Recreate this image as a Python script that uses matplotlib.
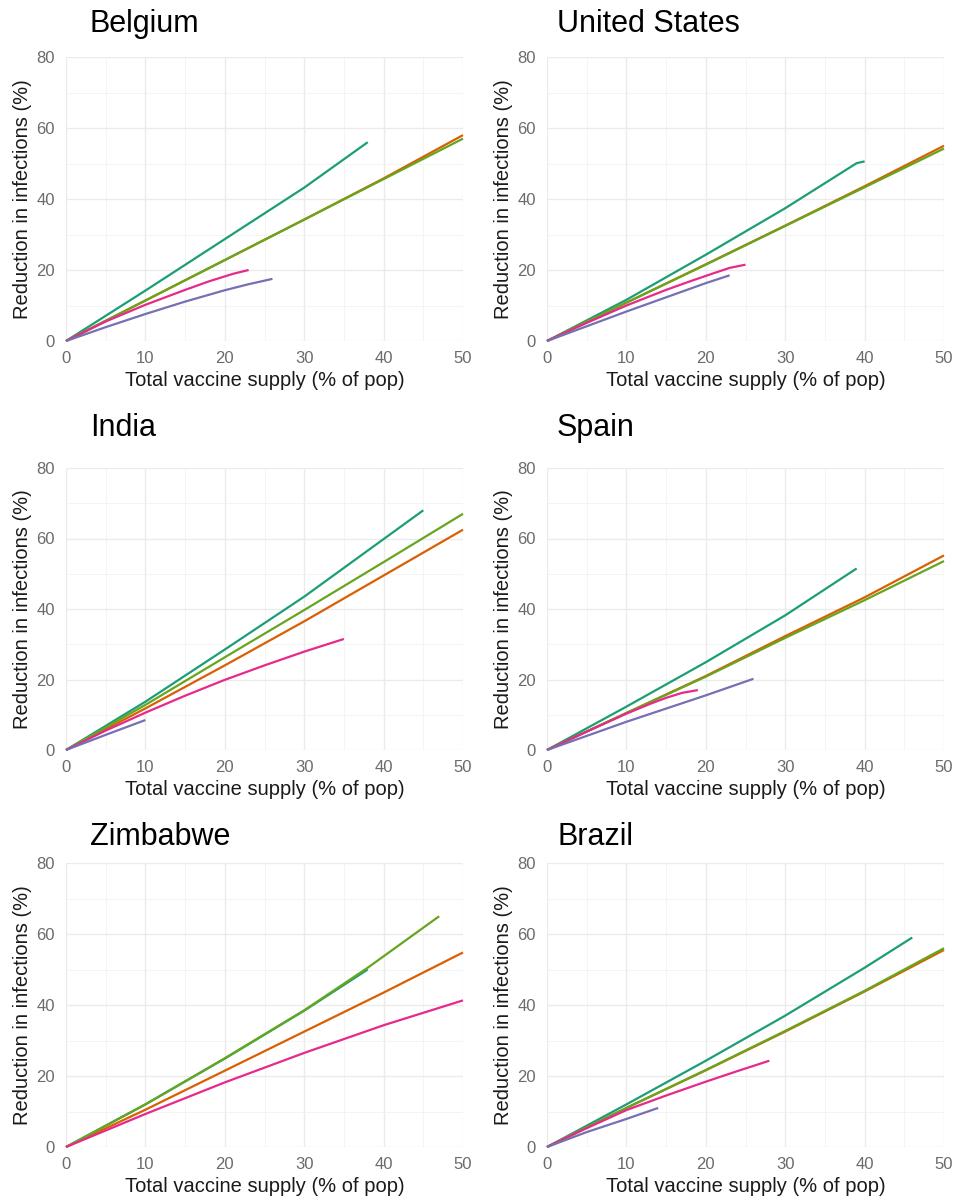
import numpy as np
import matplotlib.pyplot as plt

plt.rcParams['font.family'] = ['Liberation Sans', 'DejaVu Sans']

# Dark2 palette, as in the original
col_teal = '#1B9E77'
col_orange = '#D95F02'
col_purple = '#7570B3'
col_pink = '#E7298A'
col_green = '#66A61E'

countries = ['Belgium', 'United States', 'India', 'Spain', 'Zimbabwe', 'Brazil']

# (x, y) per strategy per country
belgium = {
    'teal': ([0, 10, 20, 30, 38], [0, 14.2, 28.7, 43.2, 56]),
    'orange': ([0, 10, 20, 30, 40, 50], [0, 11.4, 22.8, 34.2, 45.8, 58]),
    'green': ([0, 10, 20, 30, 40, 50], [0, 11.4, 22.8, 34.2, 45.6, 57]),
    'pink': ([0, 5, 10, 15, 18, 21, 23], [0, 5.5, 10.2, 14.4, 16.8, 18.9, 20]),
    'purple': ([0, 5, 10, 15, 20, 23, 26], [0, 3.9, 7.6, 11.1, 14.3, 16, 17.5]),
}
united_states = {
    'teal': ([0, 10, 20, 30, 39, 40], [0, 11.6, 24.3, 37.4, 50.1, 50.6]),
    'orange': ([0, 10, 20, 30, 40, 50], [0, 10.8, 21.6, 32.5, 43.6, 55]),
    'green': ([0, 10, 20, 30, 40, 50], [0, 10.8, 21.5, 32.4, 43.3, 54.2]),
    'pink': ([0, 5, 10, 15, 18, 21, 23, 25], [0, 5.1, 10, 14.4, 16.8, 19.1, 20.6, 21.5]),
    'purple': ([0, 10, 20, 23], [0, 8.3, 16.3, 18.5]),
}
india = {
    'teal': ([0, 10, 20, 30, 45], [0, 13.7, 28.5, 43.5, 68]),
    'orange': ([0, 10, 20, 30, 40, 50], [0, 11.8, 24, 36.5, 49.5, 62.5]),
    'green': ([0, 10, 20, 30, 40, 50], [0, 12.8, 26.3, 39.7, 53.3, 67]),
    'pink': ([0, 5, 10, 15, 20, 25, 30, 35], [0, 5.5, 10.6, 15.4, 19.9, 24, 27.9, 31.5]),
    'purple': ([0, 5, 10], [0, 4.3, 8.5]),
}
spain = {
    'teal': ([0, 10, 20, 30, 39], [0, 12.3, 24.9, 38.2, 51.5]),
    'orange': ([0, 10, 20, 30, 40, 50], [0, 10.5, 21, 32.3, 43.3, 55.2]),
    'green': ([0, 10, 20, 30, 40, 50], [0, 10.5, 20.8, 31.8, 42.5, 53.6]),
    'pink': ([0, 5, 10, 13, 15, 17, 19], [0, 5.2, 10.3, 13.1, 14.8, 16.2, 17]),
    'purple': ([0, 10, 20, 26], [0, 8, 15.5, 20.2]),
}
zimbabwe = {
    'teal': ([0, 10, 20, 30, 38], [0, 12, 24.9, 38.4, 50]),
    'orange': ([0, 10, 20, 30, 40, 50], [0, 10.5, 21.5, 32.5, 43.5, 54.8]),
    'green': ([0, 10, 20, 30, 38, 47], [0, 12, 25, 38.5, 50.5, 65]),
    'pink': ([0, 10, 20, 30, 40, 50], [0, 9.3, 18.2, 26.5, 34.3, 41.3]),
}
brazil = {
    'teal': ([0, 10, 20, 30, 40, 46], [0, 12, 24.3, 37, 50.5, 59]),
    'orange': ([0, 10, 20, 30, 40, 50], [0, 11, 21.6, 32.5, 43.8, 55.5]),
    'green': ([0, 10, 20, 30, 40, 50], [0, 11, 21.7, 32.7, 44, 56]),
    'pink': ([0, 5, 10, 15, 20, 24, 28], [0, 5.3, 10.4, 14.5, 18.4, 21.4, 24.3]),
    'purple': ([0, 5, 10, 14], [0, 4.2, 7.9, 11]),
}
all_data = [belgium, united_states, india, spain, zimbabwe, brazil]

colors = {'teal': col_teal, 'orange': col_orange, 'green': col_green,
          'pink': col_pink, 'purple': col_purple}
draw_order = ['teal', 'orange', 'green', 'pink', 'purple']

W, H = 956, 1199
fig = plt.figure(figsize=(W / 100, H / 100), dpi=100)

col_left = [66, 547]
row_top = [57, 468, 863]
row_bot = [341, 750, 1147]
panel_w = 397
title_base = [32, 436, 845]
title_x = [90, 557]

for i, (name, data) in enumerate(zip(countries, all_data)):
    r, c = divmod(i, 2)
    ax = fig.add_axes([col_left[c] / W, 1 - row_bot[r] / H,
                       panel_w / W, (row_bot[r] - row_top[r]) / H])
    for key in draw_order:
        if key in data:
            xs, ys = data[key]
            ax.plot(xs, ys, color=colors[key], lw=1.6, solid_capstyle='butt',
                    clip_on=False, zorder=3)
    ax.set_xlim(0, 50)
    ax.set_ylim(0, 80)
    ax.set_xticks(np.arange(0, 51, 10))
    ax.set_yticks(np.arange(0, 81, 20))
    ax.set_xticks(np.arange(5, 50, 10), minor=True)
    ax.set_yticks(np.arange(10, 80, 20), minor=True)
    ax.grid(which='major', color='#EBEBEB', lw=1.0)
    ax.grid(which='minor', color='#F2F2F2', lw=0.6)
    ax.set_axisbelow(True)
    for s in ax.spines.values():
        s.set_visible(False)
    ax.tick_params(which='both', length=0)
    ax.tick_params(axis='x', labelsize=12, labelcolor='#6B6B6B', pad=7)
    ax.tick_params(axis='y', labelsize=12, labelcolor='#6B6B6B', pad=8)
    ax.set_xlabel('Total vaccine supply (% of pop)', fontsize=14.5, color='#1A1A1A', labelpad=4)
    ax.set_ylabel('Reduction in infections (%)', fontsize=14.5, color='#1A1A1A', labelpad=3)
    fig.text(title_x[c] / W, 1 - title_base[r] / H, name, fontsize=22,
             color='black', va='baseline', ha='left')

fig.savefig('out.png', dpi=100, facecolor='white')
